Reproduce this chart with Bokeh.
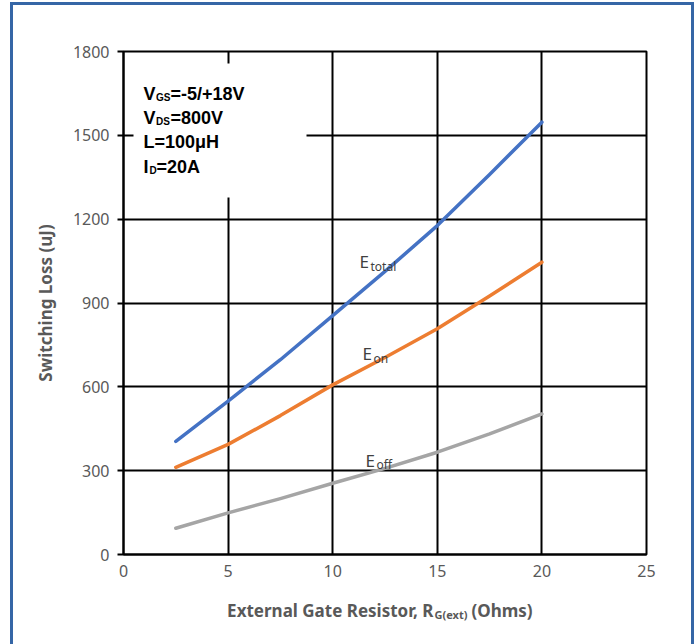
from bokeh.plotting import figure
from bokeh.models import Range1d, FixedTicker, Label, BoxAnnotation
from bokeh.embed import file_html
from bokeh.resources import INLINE

# ---- data ----
rg = [2.5, 5, 7.5, 10, 12.5, 15, 17.5, 20]
e_total = [405, 549, 697, 855, 1013, 1177, 1360, 1547]
e_on = [312, 394, 497, 607, 705, 808, 925, 1046]
e_off = [94, 149, 200, 255, 308, 366, 432, 503]

x_ticks = [0, 5, 10, 15, 20, 25]
y_ticks = [0, 300, 600, 900, 1200, 1500, 1800]

W, H = 697, 644
FL, FR, FT, FB = 123, 646, 51, 554   # frame pixel edges

def dx(px):
    return (px - FL) / (FR - FL) * 25

def dy(py):
    return (FB - py) / (FB - FT) * 1800

BLUE = "#3566A6"
bg = (f"linear-gradient({BLUE},{BLUE}) 10px 2px/3px 700px no-repeat, "
      f"linear-gradient({BLUE},{BLUE}) 10px 2px/684px 3px no-repeat, "
      f"linear-gradient({BLUE},{BLUE}) 691px 2px/3px 700px no-repeat, #ffffff")

p = figure(width=W, height=H, x_range=Range1d(0, 25), y_range=Range1d(0, 1800),
           output_backend="svg", toolbar_location=None,
           min_border_left=FL, min_border_right=W - FR,
           min_border_top=FT, min_border_bottom=H - FB)
p.border_fill_color = None
p.background_fill_color = "white"
p.styles = {"background": bg}
p.outline_line_color = "black"
p.outline_line_width = 2

p.xaxis.ticker = FixedTicker(ticks=x_ticks)
p.yaxis.ticker = FixedTicker(ticks=y_ticks)
for ax in (p.xaxis[0], p.yaxis[0]):
    ax.axis_line_color = "black"
    ax.axis_line_width = 2
    ax.minor_tick_line_color = None
    ax.major_label_text_color = "#595959"
    ax.major_label_text_font = "Noto Sans"
    ax.major_label_text_font_size = "16px"
    ax.major_tick_line_color = "black"
    ax.major_tick_line_width = 2
    ax.major_tick_in = 0
p.xaxis.major_tick_out = 0
p.xaxis.major_label_standoff = 10
p.yaxis.major_tick_out = 6
p.yaxis.major_label_standoff = 8
p.yaxis.axis_label = "Switching Loss (uJ)"
p.yaxis.axis_label_text_font = "Noto Sans"
p.yaxis.axis_label_text_font_size = "17px"
p.yaxis.axis_label_text_font_style = "bold"
p.yaxis.axis_label_text_color = "#595959"
p.yaxis.axis_label_standoff = 13

p.xgrid.grid_line_color = "black"
p.xgrid.grid_line_width = 2
p.ygrid.grid_line_color = "black"
p.ygrid.grid_line_width = 2

p.line(rg, e_off, line_color="#A5A5A5", line_width=3.5, line_cap="round", line_join="round")
p.line(rg, e_on, line_color="#ED7D31", line_width=3.5, line_cap="round", line_join="round")
p.line(rg, e_total, line_color="#4472C4", line_width=3.5, line_cap="round", line_join="round")

# white box behind the conditions text
p.add_layout(BoxAnnotation(left=dx(133), right=dx(306), top=dy(63), bottom=dy(197),
                           fill_color="white", fill_alpha=1, line_color=None))

def lab(px, py, text, size, color="black", style="normal", font="Liberation Sans",
        align="left", place="center"):
    p.add_layout(Label(x=dx(px), y=dy(py), text=text, text_font=font,
                       text_font_size=f"{size}px", text_font_style=style,
                       text_color=color, text_align=align, text_baseline="alphabetic"),
                 place)

# conditions
lab(143, 93.5, "V", 18, style="bold")
lab(155.5, 97, "GS", 10, style="bold")
lab(170, 93.5, "=-5/+18V", 18, style="bold")
lab(143, 117.5, "V", 18, style="bold")
lab(155.5, 121, "DS", 10, style="bold")
lab(170, 117.5, "=800V", 18, style="bold")
lab(143, 141.5, "L=100\u03bcH", 18, style="bold")
lab(143, 166, "I", 18, style="bold")
lab(149, 169.5, "D", 10, style="bold")
lab(156, 166, "=20A", 18, style="bold")

# curve names
G = "#404040"
lab(359, 261, "E", 17, color=G, font="Noto Sans")
lab(370, 265.5, "total", 12, color=G, font="Noto Sans")
lab(362, 353, "E", 17, color=G, font="Noto Sans")
lab(373, 357.5, "on", 12, color=G, font="Noto Sans")
lab(365, 459.5, "E", 17, color=G, font="Noto Sans")
lab(376, 464, "off", 12, color=G, font="Noto Sans")

# x axis title with subscript (drawn in the panel below the frame)
A = "#595959"
lab(433, 610, "External Gate Resistor, R", 17, color=A, style="bold", font="Noto Sans",
    align="right", place="below")
lab(434, 614, "G(ext)", 11, color=A, style="bold", font="Noto Sans", place="below")
lab(471, 610, "(Ohms)", 17, color=A, style="bold", font="Noto Sans", place="below")

open("out.html", "w").write(file_html(p, INLINE))
